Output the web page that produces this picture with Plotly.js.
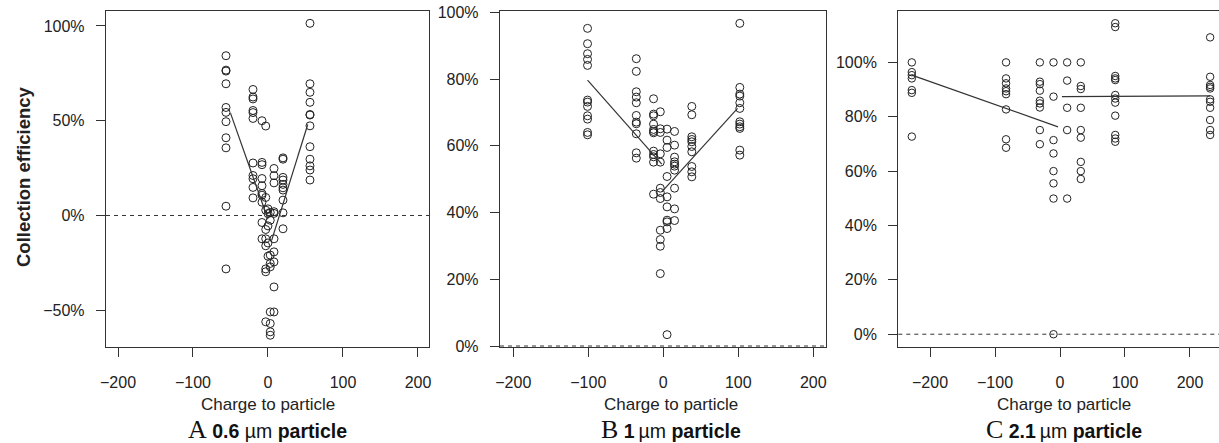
<!DOCTYPE html>
<html>
<head>
<meta charset="utf-8">
<script src="https://cdn.plot.ly/plotly-3.0.1.min.js"></script>
<style>
html, body { margin: 0; padding: 0; overflow: hidden; background: #fff; }
#chart { width: 1224px; height: 443px; }
</style>
</head>
<body>
<div id="chart"></div>
<script>
// ---------- Data ----------
// Panel A: 0.6 µm particle
const chargeA = [-56, -20, -8, -3, 0, 3, 8, 20, 56];
const effA = [
  [84.3, 76.7, 76.2, 69.5, 57.0, 54.4, 49.5, 41.0, 35.7, 4.9, -28.2],
  [66.5, 62.5, 61.5, 55.4, 54.3, 51.2, 27.7, 21.1, 19.4, 14.8, 9.3],
  [50.0, 28.0, 26.8, 19.5, 15.7, 11.6, 10.7, 7.0, -3.7, -12.3],
  [47.2, 9.5, 2.8, -7.4, -12.3, -16.0, -28.2, -29.7, -56.1],
  [3.5, 1.0, -5.5, -14.5, -21.5],
  [1.6, -2.5, -20.9, -25.3, -27.1, -50.9, -57.0, -61.4, -63.2],
  [24.8, 21.0, 17.2, 2.0, 1.1, -12.3, -19.2, -24.5, -37.7, -50.9],
  [30.4, 29.7, 20.1, 18.7, 16.4, 14.6, 13.4, 8.1, 1.4, -7.0],
  [101.4, 69.5, 65.0, 59.7, 53.3, 53.0, 47.3, 36.3, 29.7, 26.2, 24.0, 18.7]
];
const fitA_negX = [-50, 0];
const fitA_negY = [54, -2];
const fitA_posX = [5, 53];
const fitA_posY = [-13, 48];

// Panel B: 1 µm particle
const chargeB = [-101, -36, -13, -4, 5, 15, 38, 102];
const effB = [
  [95.2, 90.6, 87.6, 85.9, 84.1, 73.7, 73.1, 71.8, 69.0, 68.0, 64.0, 63.3],
  [86.1, 82.3, 76.2, 74.6, 72.9, 69.1, 67.1, 66.6, 63.6, 57.9, 56.3],
  [74.1, 69.5, 69.0, 66.5, 64.9, 64.3, 63.9, 58.4, 57.4, 56.7, 55.1, 45.5],
  [70.2, 65.1, 64.0, 57.6, 55.1, 47.3, 46.0, 44.2, 34.7, 31.9, 29.9, 21.7],
  [65.0, 61.7, 59.5, 50.8, 44.7, 41.7, 37.7, 37.2, 35.2, 3.4],
  [64.3, 60.2, 56.6, 55.2, 54.5, 53.9, 52.7, 47.3, 41.1, 37.6],
  [71.8, 69.3, 62.7, 61.9, 61.2, 59.8, 58.2, 53.8, 52.2, 50.7],
  [96.7, 77.5, 75.5, 74.9, 72.9, 71.2, 67.2, 66.5, 65.7, 65.2, 58.7, 57.2]
];
const fitB_negX = [-101, -2];
const fitB_negY = [79.7, 54.5];
const fitB_posX = [-2, 99];
const fitB_posY = [46.2, 71.2];

// Panel C: 2.1 µm particle
const chargeC = [-228, -83, -31, -10, 11, 32, 85, 231];
const effC = [
  [100, 96.4, 95.3, 94.1, 89.8, 88.8, 72.7],
  [100, 94.1, 92.3, 90.4, 89.4, 88.3, 82.7, 71.7, 68.6],
  [100, 92.9, 92.0, 89.6, 85.9, 84.9, 83.4, 75.1, 69.9],
  [100, 87.4, 71.4, 66.5, 60.0, 55.5, 49.9, 0],
  [100, 93.3, 83.3, 75.1, 49.9],
  [100, 91.3, 90.2, 83.3, 75.1, 72.3, 63.4, 60.0, 57.1],
  [114.4, 113.0, 95.0, 94.1, 93.5, 88.0, 86.7, 85.2, 80.4, 73.3, 72.0, 70.8],
  [109.2, 94.7, 91.7, 91.0, 90.4, 86.4, 85.5, 83.3, 78.8, 75.1, 73.3]
];
const fitC_negX = [-228, -3];
const fitC_negY = [95.3, 76.3];
const fitC_posX = [3, 231];
const fitC_posY = [87.4, 87.7];

const xTicks = [-200, -100, 0, 100, 200];
const xTickText = ['\u2212200', '\u2212100', '0', '100', '200'];
const yTicksA = [-50, 0, 50, 100];
const yTickTextA = ['\u221250%', '0%', '50%', '100%'];
const yTicksBC = [0, 20, 40, 60, 80, 100];
const yTickTextBC = ['0%', '20%', '40%', '60%', '80%', '100%'];

const yTitle = 'Collection efficiency';
const xTitle = 'Charge to particle';
const panelLetters = ['A', 'B', 'C'];
const panelNames = ['<b>0.6</b> µm <b>particle</b>', '<b>1</b>\u2009µm <b>particle</b>', '<b>2.1</b>\u2009µm <b>particle</b>'];

// ---------- Build ----------
const W = 1224, H = 443;
const INK = '#222';
function expand(qs, es) {
  const x = [], y = [];
  qs.forEach((q, i) => es[i].forEach(v => { x.push(q); y.push(v); }));
  return {x, y};
}
function pts(d, xa, ya, size) {
  return {type: 'scatter', mode: 'markers', x: d.x, y: d.y, xaxis: xa, yaxis: ya,
    marker: {symbol: 'circle-open', size: size, color: INK, line: {width: 1, color: INK}},
    showlegend: false, hoverinfo: 'skip'};
}
function fit(x, y, xa, ya) {
  return {type: 'scatter', mode: 'lines', x: x, y: y, xaxis: xa, yaxis: ya,
    line: {color: '#333', width: 1.2}, showlegend: false, hoverinfo: 'skip'};
}
const dA = expand(chargeA, effA), dB = expand(chargeB, effB), dC = expand(chargeC, effC);
const data = [
  pts(dA, 'x', 'y', 8), fit(fitA_negX, fitA_negY, 'x', 'y'), fit(fitA_posX, fitA_posY, 'x', 'y'),
  pts(dB, 'x2', 'y2', 8), fit(fitB_negX, fitB_negY, 'x2', 'y2'), fit(fitB_posX, fitB_posY, 'x2', 'y2'),
  pts(dC, 'x3', 'y3', 7.5), fit(fitC_negX, fitC_negY, 'x3', 'y3'), fit(fitC_posX, fitC_posY, 'x3', 'y3')
];

const font = 'Liberation Sans, Arial, Helvetica, sans-serif';
const yDom = [1 - 347 / H, 1 - 11 / H];
function xax(l, r, range, anchor) {
  return {domain: [l / W, r / W], range: range, anchor: anchor,
    tickmode: 'array', tickvals: xTicks, ticktext: xTickText,
    ticks: 'outside', ticklen: 9, tickwidth: 1, tickcolor: '#333', ticklabelstandoff: 12,
    showline: true, mirror: true, linecolor: '#333', linewidth: 1.2,
    showgrid: false, zeroline: false, fixedrange: true,
    tickfont: {family: font, size: 16, color: INK}};
}
function yax(range, vals, texts, anchor) {
  return {domain: yDom, range: range, anchor: anchor,
    tickmode: 'array', tickvals: vals, ticktext: texts,
    ticks: 'outside', ticklen: 9, tickwidth: 1, tickcolor: '#333', ticklabelstandoff: 8,
    showline: true, mirror: true, linecolor: '#333', linewidth: 1.2,
    showgrid: false, zeroline: false, fixedrange: true,
    tickfont: {family: font, size: 16, color: INK}};
}
function zeroLine(xref, yref) {
  return {type: 'line', xref: xref + ' domain', yref: yref, x0: 0, x1: 1, y0: 0, y1: 0,
    line: {color: '#333', width: 1, dash: '4px,4px'}};
}
const centers = [267.5, 671, 1064];
const annotations = [
  {text: '<b>' + yTitle + '</b>', x: 23 / W, y: 1 - 177 / H, xref: 'paper', yref: 'paper', showarrow: false,
   textangle: -90, xanchor: 'center', yanchor: 'middle', font: {family: font, size: 18.5, color: INK}},
];
centers.forEach((c, i) => {
  annotations.push({text: xTitle, x: c / W, y: 1 - 404 / H, xref: 'paper', yref: 'paper',
    showarrow: false, xanchor: 'center', yanchor: 'middle', font: {family: font, size: 17, color: INK}});
  annotations.push({text: '<span style="font-family:Liberation Serif,Times New Roman,serif;font-size:26px;font-weight:normal">' + panelLetters[i] + '</span> ' + panelNames[i],
    x: c / W, y: 1 - 429 / H, xref: 'paper', yref: 'paper',
    showarrow: false, xanchor: 'center', yanchor: 'middle', font: {family: font, size: 19.5, color: '#111'}});
});

const layout = {
  width: W, height: H, margin: {l: 0, r: 0, t: 0, b: 0},
  paper_bgcolor: '#fff', plot_bgcolor: '#fff', showlegend: false,
  xaxis: xax(106, 429, [-216, 214.7], 'y'),
  yaxis: yax([-69.4, 107.9], yTicksA, yTickTextA, 'x'),
  xaxis2: xax(500, 826, [-217.7, 216.9], 'y2'),
  yaxis2: yax([-0.3, 100.4], yTicksBC, yTickTextBC, 'x2'),
  xaxis3: xax(898.3, 1221.7, [-248.8, 248.8], 'y3'),
  yaxis3: yax([-4.7, 118.9], yTicksBC, yTickTextBC, 'x3'),
  shapes: [zeroLine('x', 'y'), zeroLine('x2', 'y2'), zeroLine('x3', 'y3')],
  annotations: annotations
};
Plotly.newPlot('chart', data, layout, {staticPlot: true, displayModeBar: false});
</script>
</body>
</html>
